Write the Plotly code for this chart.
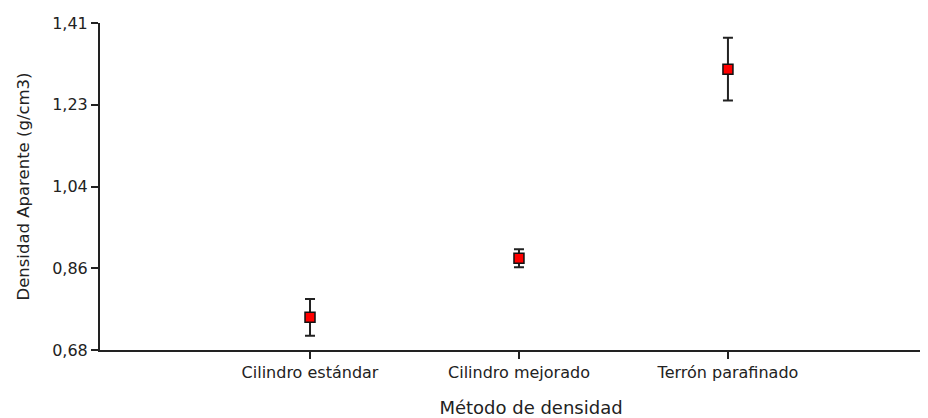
import plotly.graph_objects as go

categories = ["Cilindro estándar", "Cilindro mejorado", "Terrón parafinado"]
means = [0.753, 0.885, 1.307]
errors = [0.041, 0.020, 0.070]
y_tick_vals = [0.68, 0.8625, 1.045, 1.2275, 1.41]
y_tick_text = ["0,68", "0,86", "1,04", "1,23", "1,41"]

x_pos = list(range(len(categories)))

fig = go.Figure()
fig.add_trace(go.Scatter(
    x=x_pos, y=means, mode="markers",
    marker=dict(symbol="square", size=10, color="#ff0000",
                line=dict(color="#111111", width=1.5)),
    error_y=dict(type="data", array=errors, visible=True,
                 color="#222222", thickness=2, width=5),
    showlegend=False,
))

font = "DejaVu Sans, sans-serif"
fig.update_layout(
    width=954, height=418,
    margin=dict(l=92, r=0, t=15, b=76),
    plot_bgcolor="white", paper_bgcolor="white",
    font=dict(family=font, color="#222222", size=16),
    xaxis=dict(
        range=[-1.005, 3.12],
        tickvals=x_pos, ticktext=categories,
        showline=True, linecolor="#222222", linewidth=2,
        ticks="outside", ticklen=7, tickwidth=2, tickcolor="#222222",
        showgrid=False, zeroline=False,
        title=dict(text="Método de densidad", font=dict(size=18), standoff=20),
        tickfont=dict(size=16),
    ),
    yaxis=dict(
        range=[0.68, 1.41],
        tickvals=y_tick_vals, ticktext=y_tick_text,
        showline=True, linecolor="#222222", linewidth=2,
        ticks="outside", ticklen=7, tickwidth=2, tickcolor="#222222",
        showgrid=False, zeroline=False,
        title=dict(text="Densidad Aparente (g/cm3)", font=dict(size=16.5), standoff=18),
        tickfont=dict(size=16),
    ),
)

fig.write_html("out.html")
